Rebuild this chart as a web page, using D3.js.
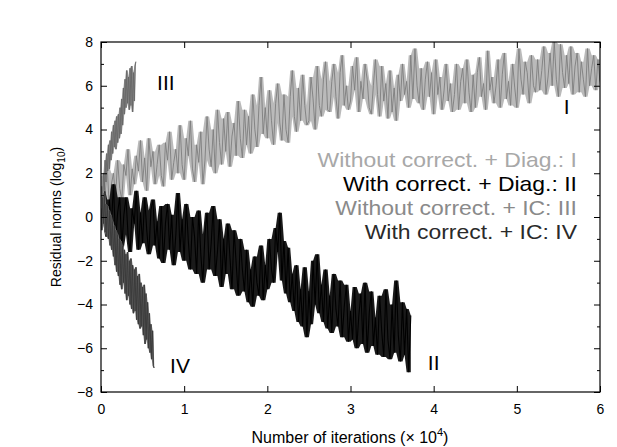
<!DOCTYPE html>
<html lang="en">
<head>
<meta charset="utf-8">
<title>Residual norms</title>
<script src="https://d3js.org/d3.v7.min.js"></script>
<style>
  body { margin: 0; background: #fff; }
  text { font-family: "Liberation Sans", Arial, Helvetica, sans-serif; }
</style>
</head>
<body>
<svg id="chart" width="617" height="447"></svg>
<script>
// x axis: number of iterations (x 10^4), y axis: log10 of residual norm
var xTicks = [0, 1, 2, 3, 4, 5, 6];
var yTicks = [-8, -6, -4, -2, 0, 2, 4, 6, 8];
var yMinor = [-7, -5, -3, -1, 1, 3, 5, 7];

// sampling step of each series (x 10^4 iterations)
var stepI = 0.025, stepII = 0.025, stepIII = 0.01, stepIV = 0.01;

// I: without correction + Diag.
var seriesI = [
  0.2, 1.9, 1.1, 2.3, 0.4, 1.5, 2.0, 0.9, 2.6, 1.3,
  0.8, 2.4, 1.9, 3.1, 1.0, 2.2, 1.5, 2.8, 2.1, 3.5,
  1.6, 2.7, 1.2, 3.6, 2.3, 3.0, 1.5, 2.4, 3.3, 1.9,
  1.4, 3.4, 2.6, 3.9, 1.7, 2.5, 3.1, 2.0, 4.2, 2.4,
  1.7, 3.6, 2.8, 4.4, 2.2, 1.6, 3.3, 2.5, 3.9, 1.5,
  2.6, 4.6, 3.1, 2.3, 4.0, 2.0, 4.9, 3.4, 2.4, 4.5,
  3.0, 4.8, 2.3, 3.7, 4.3, 2.8, 5.3, 3.6, 2.7, 4.9,
  3.3, 4.6, 2.9, 5.6, 4.0, 3.2, 5.1, 6.4, 3.8, 5.0,
  3.6, 5.8, 4.4, 3.3, 5.2, 6.1, 4.3, 3.5, 5.6, 4.0,
  3.4, 5.5, 6.7, 4.6, 3.9, 5.9, 4.4, 6.5, 5.1, 4.2,
  4.4, 6.4, 5.4, 4.0, 6.9, 5.1, 4.6, 6.3, 7.1, 4.9,
  4.8, 6.2, 7.0, 5.5, 4.5, 6.6, 7.4, 5.1, 6.0, 4.9,
  5.3, 6.9, 5.8, 7.3, 4.8, 6.2, 5.4, 7.0, 6.3, 5.0,
  4.7, 6.0, 7.2, 5.6, 4.6, 6.9, 5.3, 6.1, 4.5, 6.7,
  4.8, 5.9, 4.4, 6.5, 5.3, 7.0, 5.6, 6.2, 5.0, 7.4,
  5.4, 7.7, 6.0, 5.2, 6.8, 4.9, 6.3, 7.1, 5.5, 6.6,
  4.7, 7.2, 5.6, 6.4, 4.9, 5.8, 7.0, 5.3, 6.1, 4.8,
  5.6, 7.0, 4.9, 6.2, 6.8, 5.2, 7.2, 5.7, 4.8, 6.5,
  5.0, 6.6, 7.3, 5.5, 6.1, 4.9, 7.6, 5.8, 6.4, 5.2,
  6.0, 7.2, 5.0, 6.5, 7.5, 5.4, 6.2, 5.1, 7.0, 5.9,
  5.0, 7.7, 6.3, 5.6, 7.1, 6.6, 5.2, 7.4, 6.0, 5.7,
  7.2, 5.8, 6.7, 7.8, 5.6, 6.4, 7.5, 6.0, 8.0, 6.3,
  5.5, 7.9, 6.6, 5.9, 7.4, 6.1, 7.8, 5.6, 6.9, 7.5,
  5.7, 7.1, 6.3, 5.5, 7.7, 6.0, 6.8, 7.4, 5.8, 7.2,
  6.2
];

// II: with correction + Diag.
var seriesII = [
  -0.2, 1.2, 0.3, -0.9, 0.8, -0.4, 1.5, -1.1, 0.2, 0.9,
  -1.4, 0.1, 0.9, -0.8, -1.6, 0.4, -0.3, 1.2, -1.5, 0.2,
  -1.2, 0.9, -0.6, -1.7, 0.3, 0.8, -1.3, -0.2, -1.9, 0.5,
  -2.1, -0.3, 0.6, -1.5, 0.1, -2.2, -0.8, 1.1, -1.6, -0.1,
  -2.0, 0.6, -1.1, -2.4, 0.0, -0.9, -2.6, 0.3, -1.7, -3.0,
  -0.8, 0.2, -2.4, -1.2, 0.5, -2.7, -1.6, -0.1, -3.2, -1.0,
  -2.6, -0.3, -1.8, -3.3, -0.6, -2.1, -3.6, -1.0, -2.4, -3.4,
  -1.5, -3.9, -2.4, -4.1, -1.8, -3.0, -3.6, -1.3, -3.8, -2.2,
  -3.3, -1.0, -2.4, -3.0, -0.5, -1.6, 0.2, -2.9, -1.1, -3.5,
  -1.4, -3.9, -2.6, -4.3, -2.2, -4.8, -3.3, -5.0, -2.3, -5.5,
  -3.4, -4.9, -2.0, -4.0, -1.7, -4.4, -3.1, -4.8, -2.4, -5.1,
  -3.6, -5.3, -2.6, -4.2, -5.0, -2.9, -5.5, -4.1, -3.1, -5.7,
  -4.3, -5.6, -3.2, -6.0, -4.5, -3.5, -5.8, -3.0, -6.2, -4.4,
  -3.4, -5.9, -4.6, -6.3, -3.6, -5.2, -6.4, -3.3, -5.6, -6.5,
  -4.0, -6.2, -2.9, -5.4, -6.6, -3.9, -6.3, -4.2, -7.1, -4.5
];

// III: without correction + IC
var seriesIII = [
  0.3, 1.4, 0.8, 2.0, 1.2, 2.6, 1.6, 2.9, 2.1, 3.3,
  2.2, 3.5, 2.6, 3.9, 2.9, 4.2, 3.2, 4.4, 3.1, 4.6,
  3.4, 4.7, 3.6, 5.0, 3.8, 5.4, 4.2, 5.9, 4.7, 6.3,
  5.0, 6.7, 5.2, 6.4, 4.9, 6.8, 5.1, 6.9, 4.8, 6.6,
  5.3, 6.9, 7.1
];

// IV: with correction + IC
var seriesIV = [
  0.4, -0.6, 0.9, -0.3, 1.1, -0.7, 0.6, -0.9, 0.5, -1.0,
  0.3, -1.3, 0.1, -1.5, -0.2, -1.8, -0.4, -2.2, -0.6, -2.5,
  -0.8, -2.7, -1.0, -3.1, -1.1, -3.3, -1.3, -3.0, -1.5, -3.5,
  -1.7, -3.8, -1.6, -3.6, -2.0, -4.0, -1.9, -4.2, -2.2, -4.4,
  -2.4, -4.3, -2.3, -4.7, -2.7, -4.9, -2.6, -5.1, -3.0, -5.0,
  -3.2, -5.4, -3.1, -5.8, -3.5, -5.6, -3.9, -6.0, -4.4, -6.2,
  -4.9, -6.5, -5.2, -6.8, -6.9
];

var legendLines = [
  { text: "Without correct. + Diag.: I", color: "#a8a8a8" },
  { text: "With correct. + Diag.: II", color: "#000000" },
  { text: "Without correct. + IC: III", color: "#8a8a8a" },
  { text: "With correct. + IC: IV", color: "#2a2a2a" }
];

var curveLabels = [
  { text: "III", xv: 0.78, yv: 5.8 },
  { text: "I", xv: 5.6, yv: 4.7 },
  { text: "IV", xv: 0.95, yv: -7.15 },
  { text: "II", xv: 4.0, yv: -7.0 }
];

function main() {
  var svg = d3.select("#chart");
  var pLeft = 101, pRight = 600, pTop = 42, pBottom = 392;

  var x = d3.scaleLinear().domain([0, 6]).range([pLeft, pRight]);
  var y = d3.scaleLinear().domain([-8, 8]).range([pBottom, pTop]);

  svg.append("clipPath").attr("id", "plotclip")
    .append("rect")
    .attr("x", pLeft).attr("y", pTop)
    .attr("width", pRight - pLeft).attr("height", pBottom - pTop);

  var plot = svg.append("g").attr("clip-path", "url(#plotclip)");

  // noisy trace: a filled band between the local extremes, then the trace itself
  function drawSeries(vals, step, fill, color, width) {
    function lo(i) { return d3.min(vals.slice(Math.max(0, i - 1), i + 2)); }
    function hi(i) { return d3.max(vals.slice(Math.max(0, i - 1), i + 2)); }
    var band = d3.area()
      .x(function (d, i) { return x(i * step); })
      .y0(function (d, i) { return y(lo(i)); })
      .y1(function (d, i) { return y(hi(i)); });
    plot.append("path")
      .datum(vals)
      .attr("fill", fill)
      .attr("stroke", "none")
      .attr("d", band);
    var line = d3.line()
      .x(function (d, i) { return x(i * step); })
      .y(function (d) { return y(d); });
    plot.append("path")
      .datum(vals)
      .attr("fill", "none")
      .attr("stroke", color)
      .attr("stroke-width", width)
      .attr("d", line);
  }

  drawSeries(seriesI, stepI, "#bababa", "#7e7e7e", 0.9);
  drawSeries(seriesII, stepII, "#1a1a1a", "#000000", 1.1);
  drawSeries(seriesIII, stepIII, "#a0a0a0", "#666666", 0.9);
  drawSeries(seriesIV, stepIV, "#7a7a7a", "#383838", 0.9);

  // axes, ticks pointing inwards on all four sides
  function styleAxis(g) {
    g.select(".domain").remove();
    g.selectAll("line").attr("stroke", "#000").attr("stroke-width", 1);
    g.selectAll("text").attr("font-size", "14px").attr("fill", "#000")
      .style("font-family", "'Liberation Sans', Arial, sans-serif");
  }
  var intFmt = d3.format("d");

  svg.append("g")
    .attr("transform", "translate(" + pLeft + ",0)")
    .call(d3.axisLeft(y).tickValues(yTicks).tickSize(-6).tickPadding(8).tickFormat(intFmt))
    .call(styleAxis);
  svg.append("g")
    .attr("transform", "translate(" + pLeft + ",0)")
    .call(d3.axisLeft(y).tickValues(yMinor).tickSize(-3).tickFormat(""))
    .call(styleAxis);
  svg.append("g")
    .attr("transform", "translate(" + pRight + ",0)")
    .call(d3.axisRight(y).tickValues(yTicks).tickSize(-6).tickFormat(""))
    .call(styleAxis);
  svg.append("g")
    .attr("transform", "translate(" + pRight + ",0)")
    .call(d3.axisRight(y).tickValues(yMinor).tickSize(-3).tickFormat(""))
    .call(styleAxis);
  svg.append("g")
    .attr("transform", "translate(0," + pBottom + ")")
    .call(d3.axisBottom(x).tickValues(xTicks).tickSize(-6).tickPadding(12).tickFormat(intFmt))
    .call(styleAxis);
  svg.append("g")
    .attr("transform", "translate(0," + pTop + ")")
    .call(d3.axisTop(x).tickValues(xTicks).tickSize(-6).tickFormat(""))
    .call(styleAxis);

  svg.append("rect")
    .attr("x", pLeft).attr("y", pTop)
    .attr("width", pRight - pLeft).attr("height", pBottom - pTop)
    .attr("fill", "none").attr("stroke", "#000").attr("stroke-width", 1.2);

  // axis titles
  var ylab = svg.append("text")
    .attr("transform", "translate(61," + (pTop + pBottom) / 2 + ") rotate(-90)")
    .attr("text-anchor", "middle")
    .attr("font-size", "14px");
  ylab.append("tspan").text("Residual norms (log");
  ylab.append("tspan").attr("font-size", "10px").attr("dy", 4).text("10");
  ylab.append("tspan").attr("dy", -4).text(")");

  var xlab = svg.append("text")
    .attr("x", 350)
    .attr("y", 443)
    .attr("text-anchor", "middle")
    .attr("font-size", "16px");
  xlab.append("tspan").text("Number of iterations (\u00d7 10");
  xlab.append("tspan").attr("font-size", "11px").attr("dy", -7).text("4");
  xlab.append("tspan").attr("dy", 7).text(")");

  // legend, right aligned; the scan's lettering is a little wider than the font
  svg.append("g")
    .attr("transform", "translate(577,0) scale(1.12,1)")
    .selectAll("text")
    .data(legendLines)
    .enter().append("text")
    .attr("x", 0)
    .attr("y", function (d, i) { return 167 + i * 24; })
    .attr("text-anchor", "end")
    .attr("font-size", "20.5px")
    .attr("fill", function (d) { return d.color; })
    .text(function (d) { return d.text; });

  // curve labels
  svg.append("g").selectAll("text")
    .data(curveLabels)
    .enter().append("text")
    .attr("x", function (d) { return x(d.xv); })
    .attr("y", function (d) { return y(d.yv); })
    .attr("text-anchor", "middle")
    .attr("font-size", "21px")
    .attr("fill", "#000")
    .text(function (d) { return d.text; });
}
main();
</script>
</body>
</html>
